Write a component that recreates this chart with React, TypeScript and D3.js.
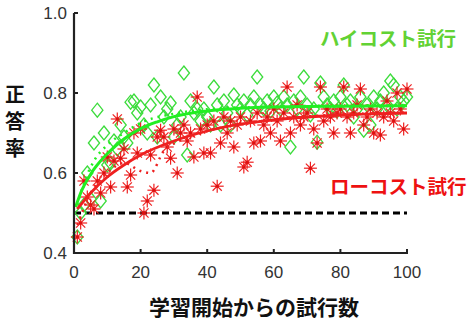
import React from "react";
import * as d3 from "d3";

const trials: number[] = d3.range(1, 101);

const highCost: number[] = [
  0.44, 0.50, 0.52, 0.60, 0.535, 0.675, 0.757, 0.53, 0.70, 0.62,
  0.625, 0.68, 0.66, 0.72, 0.69, 0.675, 0.777, 0.78, 0.75, 0.765,
  0.72, 0.70, 0.77, 0.82, 0.69, 0.79, 0.74, 0.76, 0.775, 0.69,
  0.72, 0.74, 0.85, 0.645, 0.78, 0.75, 0.76, 0.73, 0.76, 0.74,
  0.72, 0.815, 0.77, 0.72, 0.78, 0.75, 0.72, 0.795, 0.77, 0.76,
  0.78, 0.745, 0.77, 0.79, 0.84, 0.77, 0.76, 0.78, 0.755, 0.79,
  0.775, 0.76, 0.79, 0.77, 0.665, 0.78, 0.76, 0.79, 0.84, 0.77,
  0.745, 0.76, 0.677, 0.825, 0.79, 0.77, 0.76, 0.78, 0.755, 0.79,
  0.82, 0.77, 0.78, 0.74, 0.76, 0.79, 0.707, 0.77, 0.72, 0.79,
  0.76, 0.78, 0.80, 0.77, 0.83, 0.82, 0.76, 0.79, 0.78, 0.79,
];

const lowCost: number[] = [
  0.44, 0.475, 0.58, 0.54, 0.52, 0.51, 0.58, 0.55, 0.60, 0.64,
  0.565, 0.63, 0.735, 0.637, 0.66, 0.565, 0.595, 0.70, 0.65, 0.71,
  0.50, 0.53, 0.645, 0.557, 0.69, 0.707, 0.69, 0.665, 0.637, 0.71,
  0.60, 0.70, 0.72, 0.68, 0.70, 0.64, 0.79, 0.71, 0.65, 0.72,
  0.65, 0.73, 0.567, 0.675, 0.74, 0.70, 0.73, 0.665, 0.72, 0.74,
  0.615, 0.627, 0.73, 0.675, 0.75, 0.68, 0.72, 0.74, 0.70, 0.76,
  0.73, 0.68, 0.75, 0.815, 0.70, 0.74, 0.77, 0.72, 0.74, 0.75,
  0.612, 0.71, 0.675, 0.815, 0.73, 0.76, 0.74, 0.70, 0.75, 0.76,
  0.815, 0.74, 0.70, 0.75, 0.77, 0.81, 0.72, 0.74, 0.76, 0.70,
  0.75, 0.695, 0.74, 0.78, 0.75, 0.73, 0.80, 0.76, 0.71, 0.81,
];

// fitted curves
const highFitX: number[] = [0.5, 2, 5, 10, 15, 20, 25, 30, 40, 50, 60, 80, 100];
const highFitY: number[] = [0.515, 0.55, 0.597, 0.648, 0.685, 0.711, 0.728, 0.741, 0.755, 0.762, 0.765, 0.767, 0.768];
const lowFitX: number[] = [1, 5, 10, 15, 20, 30, 40, 50, 60, 70, 80, 90, 100];
const lowFitY: number[] = [0.51, 0.55, 0.59, 0.62, 0.645, 0.68, 0.705, 0.722, 0.733, 0.74, 0.745, 0.748, 0.75];
// dotted curves
const highDotX: number[] = [1, 3, 6, 10, 15, 20, 30, 50, 100];
const highDotY: number[] = [0.52, 0.575, 0.63, 0.67, 0.70, 0.725, 0.748, 0.764, 0.77];
const lowDotX: number[] = [1, 5, 10, 15, 20, 23, 27, 35, 45, 55, 65, 75, 85, 100];
const lowDotY: number[] = [0.47, 0.55, 0.6, 0.625, 0.605, 0.60, 0.655, 0.69, 0.715, 0.728, 0.738, 0.744, 0.748, 0.752];

const xTicks: number[] = [0, 20, 40, 60, 80, 100];
const yTicks: number[] = [0.4, 0.6, 0.8, 1.0];
const chance = 0.5;

const W = 474, H = 324;
const x = d3.scaleLinear().domain([0, 100]).range([74, 407]);
const y = d3.scaleLinear().domain([0.4, 1.0]).range([253, 13]);

const GREEN = "#3cdc3c";
const GREEN_LINE = "#22ee22";
const RED = "#ee2020";
const NUM_FONT = "'Liberation Sans', Arial, sans-serif";
const JP_FONT = "'Noto Sans CJK JP', sans-serif";

function line(xs: number[], ys: number[]) {
  const pts = xs.map((v, i) => [v, ys[i]] as [number, number]);
  return d3.line<[number, number]>().x(d => x(d[0])).y(d => y(d[1])).curve(d3.curveMonotoneX)(pts) || "";
}

function Asterisk({ cx, cy }: { cx: number; cy: number }) {
  const r = 6.5;
  const angles = d3.range(0, 4).map(i => (i * Math.PI) / 4);
  return (
    <g>
      {angles.map((a, i) => (
        <line key={i} x1={cx - r * Math.cos(a)} y1={cy - r * Math.sin(a)} x2={cx + r * Math.cos(a)} y2={cy + r * Math.sin(a)} stroke={RED} strokeWidth={1.2} />
      ))}
      <circle cx={cx} cy={cy} r={1.8} fill="#dd1010" />
    </g>
  );
}

export default function App() {
  const dw = 5.6, dh = 7;
  return (
    <svg width={W} height={H} style={{ position: "absolute", left: 0, top: 0, background: "#fff" }}>
      {/* chance line */}
      <line x1={x(0)} x2={x(100)} y1={y(chance)} y2={y(chance)} stroke="#000" strokeWidth={3} strokeDasharray="7,4" />
      {/* green diamonds */}
      {trials.map((t, i) => {
        const cx = x(t), cy = y(highCost[i]);
        return (
          <path key={"g" + i} d={`M${cx},${cy - dh}L${cx + dw},${cy}L${cx},${cy + dh}L${cx - dw},${cy}Z`} fill="none" stroke={GREEN} strokeWidth={1.3} />
        );
      })}
      {/* red asterisks */}
      {trials.map((t, i) => (
        <Asterisk key={"r" + i} cx={x(t)} cy={y(lowCost[i])} />
      ))}
      {/* dotted curves */}
      <path d={line(highDotX, highDotY)} fill="none" stroke={GREEN_LINE} strokeWidth={2.5} strokeDasharray="2,5" />
      <path d={line(lowDotX, lowDotY)} fill="none" stroke={RED} strokeWidth={2.5} strokeDasharray="2,5" />
      {/* fit curves */}
      <path d={line(highFitX, highFitY)} fill="none" stroke={GREEN_LINE} strokeWidth={3} />
      <path d={line(lowFitX, lowFitY)} fill="none" stroke={RED} strokeWidth={2.8} />
      {/* axes */}
      <line x1={x(0)} x2={x(0)} y1={y(1.0)} y2={y(0.4) + 1} stroke="#222" strokeWidth={2.2} />
      <line x1={x(0) - 1} x2={x(100) + 1} y1={y(0.4)} y2={y(0.4)} stroke="#222" strokeWidth={2.2} />
      {yTicks.map(t => (
        <g key={"yt" + t}>
          <line x1={x(0)} x2={x(0) + 4} y1={y(t)} y2={y(t)} stroke="#222" strokeWidth={2} />
          <text x={x(0) - 7} y={y(t) + 6} textAnchor="end" fontFamily={NUM_FONT} fontSize={17} fill="#333">{t.toFixed(1)}</text>
        </g>
      ))}
      {xTicks.map(t => (
        <g key={"xt" + t}>
          <line x1={x(t)} x2={x(t)} y1={y(0.4)} y2={y(0.4) - 4} stroke="#222" strokeWidth={2} />
          <text x={x(t)} y={278} textAnchor="middle" fontFamily={NUM_FONT} fontSize={17} fill="#333">{t}</text>
        </g>
      ))}
      {/* axis titles */}
      <text x={254} y={315} textAnchor="middle" fontFamily={JP_FONT} fontWeight="bold" fontSize={21} fill="#111">学習開始からの試行数</text>
      {["正", "答", "率"].map((c, i) => (
        <text key={c} x={15} y={102 + i * 27} textAnchor="middle" fontFamily={JP_FONT} fontWeight="bold" fontSize={20} fill="#111">{c}</text>
      ))}
      {/* legend labels */}
      <text x={320} y={46} fontFamily={JP_FONT} fontWeight="bold" fontSize={19.5} fill="#62d234">ハイコスト試行</text>
      <text x={330} y={194} fontFamily={JP_FONT} fontWeight="bold" fontSize={19.5} fill="#ee1111">ローコスト試行</text>
    </svg>
  );
}
